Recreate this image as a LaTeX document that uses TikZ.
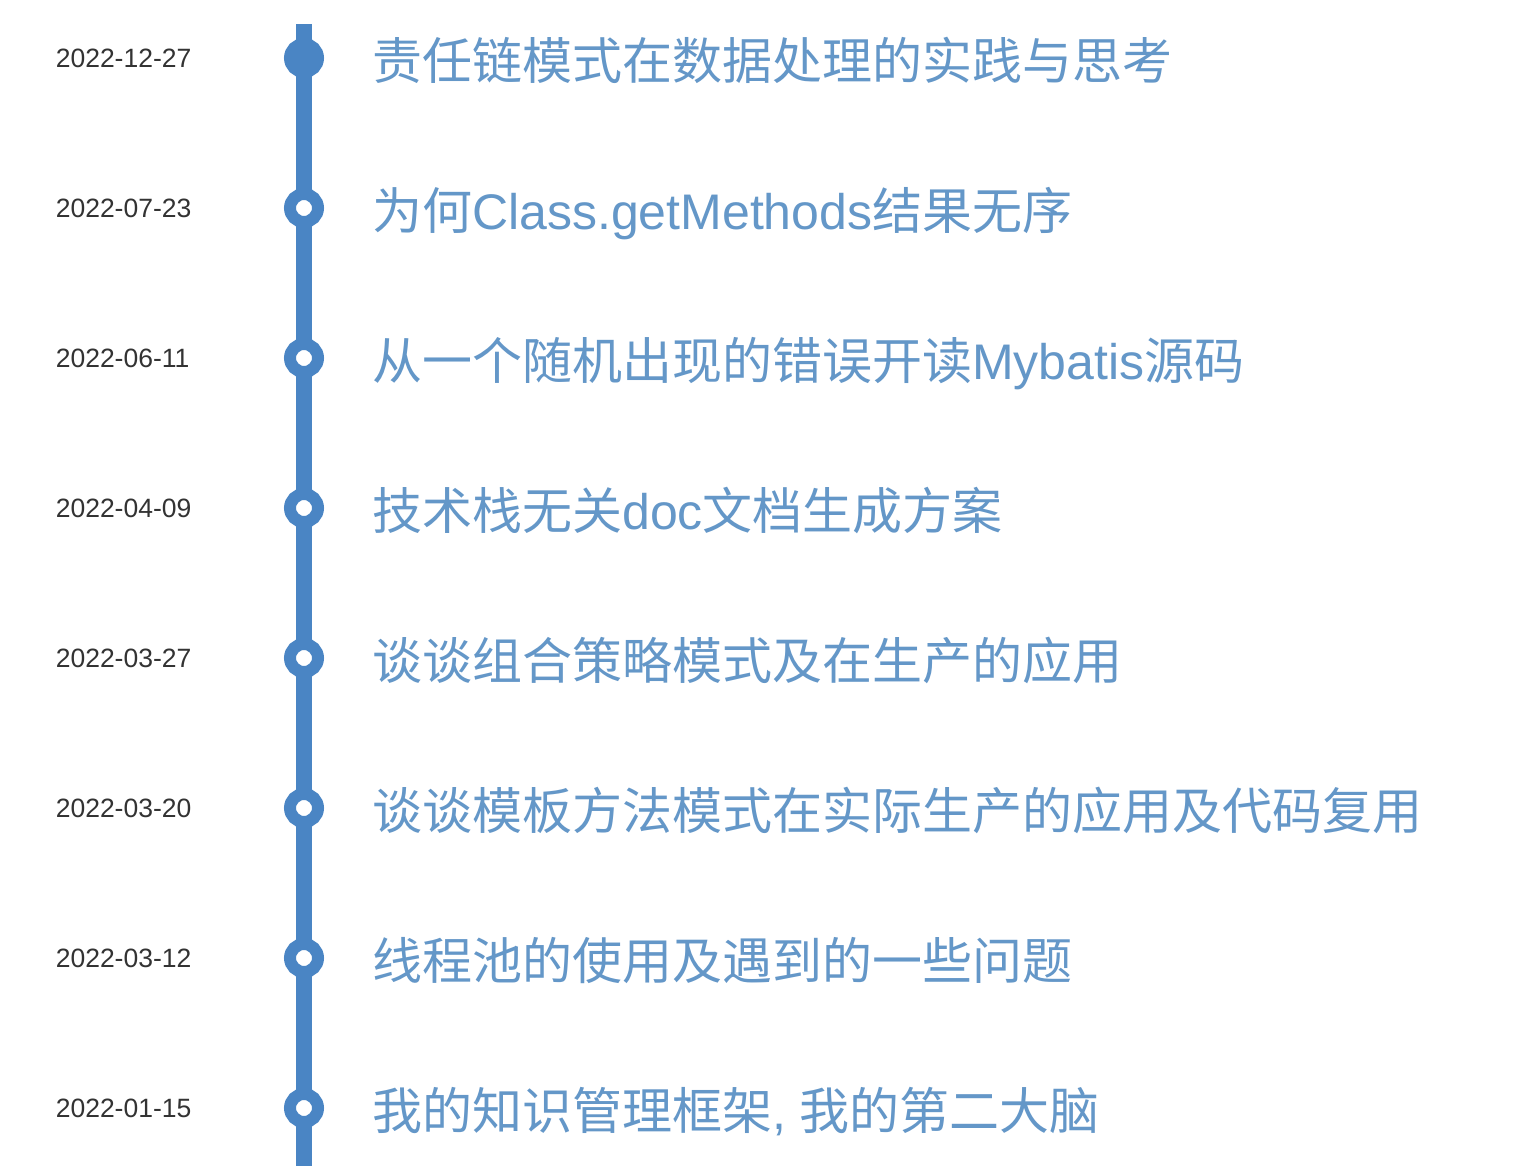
\documentclass[tikz,border=0pt]{standalone}
\usepackage{fontspec}
\usepackage{tikz}
\usepackage{xcolor}
\usetikzlibrary{positioning}
\setmainfont{Liberation Sans}
\newfontfamily\cjkfont{Noto Sans CJK SC}
\newfontfamily\latinfont{Liberation Sans}
\newcommand{\lat}[1]{{\latinfont #1}}
\definecolor{tlblue}{HTML}{4A85C4}
\definecolor{tltext}{HTML}{6497C8}
\definecolor{tldate}{HTML}{333333}

\begin{document}
\begin{tikzpicture}[
        x=1pt, y=-1pt,
        dot/.style={circle, draw=tlblue, line width=12pt, fill=white,
                    minimum size=28pt, inner sep=0pt},
        firstdot/.style={dot, fill=tlblue},
        date/.style={text width=140pt, align=left, inner sep=0pt,
                     text height=19pt, text depth=0pt,
                     font=\fontsize{26.5}{26.5}\selectfont\latinfont, text=tldate},
        title/.style={inner sep=0pt, text height=46pt, text depth=3pt,
                      font=\fontsize{50}{50}\selectfont\cjkfont, text=tltext},
        rail/.style={draw=tlblue, line width=16pt}
    ]
    \fill[white] (0,0) rectangle (1520,1166);
    \useasboundingbox (0,0) rectangle (1520,1166);

    \coordinate (top) at (304,24);
    \coordinate (bottom) at (304,1166);
    \draw [rail] (top) -- (bottom);

    \node [firstdot] (d1) at (304,58) {};
    \node [dot] (d2) at (304,208) {};
    \node [dot] (d3) at (304,358) {};
    \node [dot] (d4) at (304,508) {};
    \node [dot] (d5) at (304,658) {};
    \node [dot] (d6) at (304,808) {};
    \node [dot] (d7) at (304,958) {};
    \node [dot] (d8) at (304,1108) {};

    % Dates
    \node [date, left=88pt of d1] (date1) {2022-12-27};
    \node [date, left=88pt of d2] (date2) {2022-07-23};
    \node [date, left=88pt of d3] (date3) {2022-06-11};
    \node [date, left=88pt of d4] (date4) {2022-04-09};
    \node [date, left=88pt of d5] (date5) {2022-03-27};
    \node [date, left=88pt of d6] (date6) {2022-03-20};
    \node [date, left=88pt of d7] (date7) {2022-03-12};
    \node [date, left=88pt of d8] (date8) {2022-01-15};

    % Titles
    \node [title, right=48pt of d1] (title1) {责任链模式在数据处理的实践与思考};
    \node [title, right=48pt of d2] (title2) {为何\lat{Class.getMethods}结果无序};
    \node [title, right=48pt of d3] (title3) {从一个随机出现的错误开读\lat{Mybatis}源码};
    \node [title, right=48pt of d4] (title4) {技术栈无关\lat{doc}文档生成方案};
    \node [title, right=48pt of d5] (title5) {谈谈组合策略模式及在生产的应用};
    \node [title, right=48pt of d6] (title6) {谈谈模板方法模式在实际生产的应用及代码复用};
    \node [title, right=48pt of d7] (title7) {线程池的使用及遇到的一些问题};
    \node [title, right=48pt of d8] (title8) {我的知识管理框架\lat{, }我的第二大脑};
\end{tikzpicture}
\end{document}
